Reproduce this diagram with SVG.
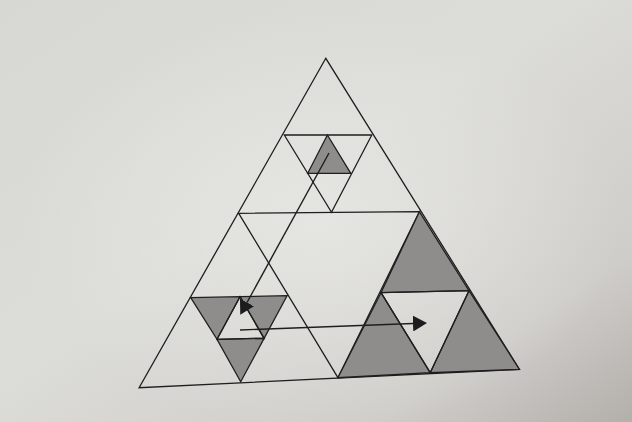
<svg xmlns="http://www.w3.org/2000/svg" width="632" height="422" viewBox="0 0 632 422">
<defs>
<linearGradient id="paper" x1="0" y1="0" x2="1" y2="1">
<stop offset="0" stop-color="#d7d7d3"/>
<stop offset="0.45" stop-color="#dcdcd8"/>
<stop offset="0.8" stop-color="#cfcdca"/>
<stop offset="1" stop-color="#b3afab"/>
</linearGradient>
<radialGradient id="glow" cx="0.5" cy="0.5" r="0.5">
<stop offset="0" stop-color="#e6e6e2" stop-opacity="0.9"/>
<stop offset="1" stop-color="#e6e6e2" stop-opacity="0"/>
</radialGradient>
<marker id="head" viewBox="0 0 14 16" refX="0" refY="8" markerWidth="14" markerHeight="16" markerUnits="userSpaceOnUse" orient="auto">
<path d="M0,0 L14,8 L0,16 Z" fill="#1c1c1c"/>
</marker>
</defs>
<style>
.ln{fill:none;stroke:#1e1e1e;stroke-width:1.3;stroke-linejoin:miter}
.sh{fill:#8e8d8b;stroke:#1e1e1e;stroke-width:1.3}
.ar{fill:none;stroke:#1e1e1e;stroke-width:1.4}
</style>
<rect x="0" y="0" width="632" height="422" fill="url(#paper)"/>
<ellipse cx="320" cy="220" rx="300" ry="210" fill="url(#glow)"/>

<g id="outer">
<polygon points="325.8,58.3 139.1,387.7 519.4,369.3" fill="#e2e2de" class="ln"/>
<polygon points="238.7,213.3 419.4,211.7 337.9,377.7" class="ln"/>
</g>

<g id="top-sub">
<polygon points="284.3,135 371.8,135 331.5,212.3" class="ln"/>
<polygon id="top-shaded" points="327.4,135 307.7,173.3 350.8,173.3" class="sh"/>
</g>

<g id="left-sub">
<polygon points="190.7,297.7 240,296.7 217,339.3" class="sh"/>
<polygon points="240,296.7 287.1,295.7 264.1,338.3" class="sh"/>
<polygon points="217,339.3 264.1,338.3 240.7,381.7" class="sh"/>
<polygon points="240,296.7 217,339.3 264.1,338.3" class="ln"/>
</g>

<g id="right-sub">
<polygon points="419.4,211.7 381,292.7 469,290.7" class="sh"/>
<polygon points="381,292.7 337.9,377.7 430.2,372.7" class="sh"/>
<polygon points="469,290.7 430.2,372.7 519.4,369.3" class="sh"/>
<polygon points="381,292.7 469,290.7 430.2,372.7" class="ln"/>
</g>

<g id="connectors">
<line class="ar" x1="329" y1="153" x2="247" y2="302.5" marker-end="url(#head)"/>
<line class="ar" x1="240" y1="330" x2="413" y2="323.5" marker-end="url(#head)"/>
</g>
</svg>
